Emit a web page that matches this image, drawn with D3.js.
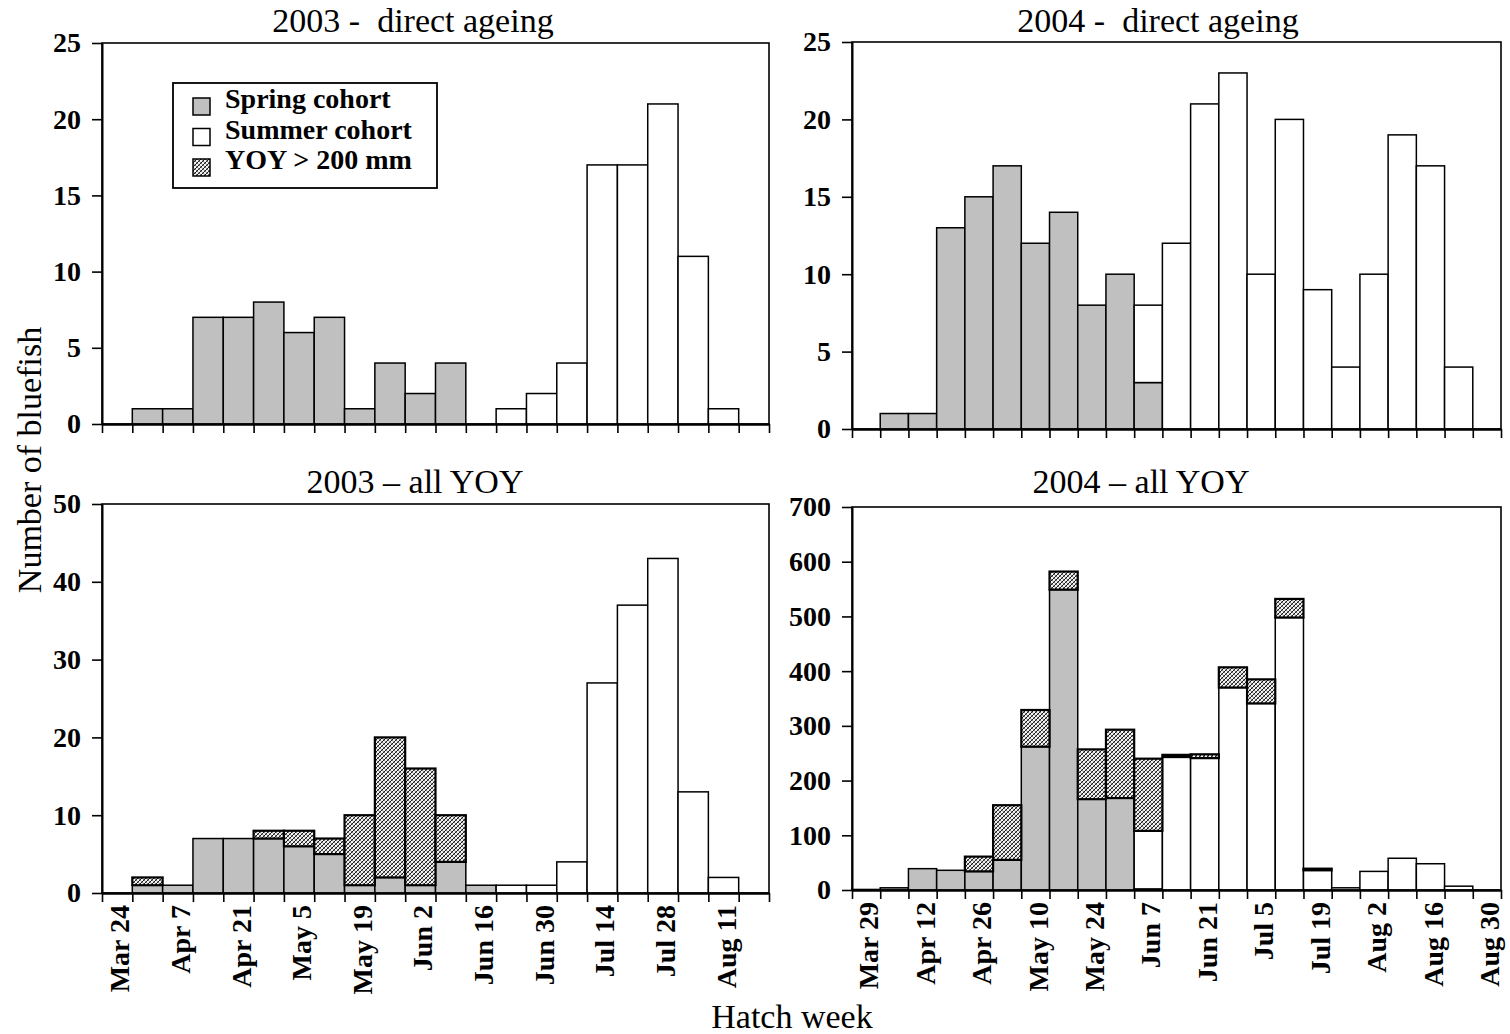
<!DOCTYPE html>
<html>
<head>
<meta charset="utf-8">
<script src="https://cdn.jsdelivr.net/npm/d3@7"></script>
<style>
  html, body { margin: 0; padding: 0; background: #fff; }
  svg { display: block; }
  text { font-family: "Liberation Serif", "Times New Roman", serif; fill: #000; }
</style>
</head>
<body>
<svg id="chart" width="1510" height="1034"></svg>
<script>
// Hatch weeks (weekly bins)
const weeks2003 = ["Mar 24","Mar 31","Apr 7","Apr 14","Apr 21","Apr 28","May 5","May 12",
  "May 19","May 26","Jun 2","Jun 9","Jun 16","Jun 23","Jun 30","Jul 7","Jul 14","Jul 21",
  "Jul 28","Aug 4","Aug 11","Aug 18"];
const weeks2004 = ["Mar 29","Apr 5","Apr 12","Apr 19","Apr 26","May 3","May 10","May 17",
  "May 24","May 31","Jun 7","Jun 14","Jun 21","Jun 28","Jul 5","Jul 12","Jul 19","Jul 26",
  "Aug 2","Aug 9","Aug 16","Aug 23","Aug 30"];

// 2003 - direct ageing
const direct2003Spring = [0,1,1,7,7,8,6,7,1,4,2,4,0,0,0,0,0,0,0,0,0,0];
const direct2003Summer = [0,0,0,0,0,0,0,0,0,0,0,0,0,1,2,4,17,17,21,11,1,0];

// 2004 - direct ageing
const direct2004Spring = [0,1,1,13,15,17,12,14,8,10,3,0,0,0,0,0,0,0,0,0,0,0,0];
const direct2004Summer = [0,0,0,0,0,0,0,0,0,0,5,12,21,23,10,20,9,4,10,19,17,4,0];

// 2003 - all YOY
const all2003Spring = [0,1,1,7,7,7,6,5,1,2,1,4,1,0,0,0,0,0,0,0,0,0];
const all2003Summer = [0,0,0,0,0,0,0,0,0,0,0,0,0,1,1,4,27,37,43,13,2,0];
const all2003Large  = [0,1,0,0,0,1,2,2,9,18,15,6,0,0,0,0,0,0,0,0,0,0];

// 2004 - all YOY
const all2004Spring = [1,4,39,36,34,55,262,549,166,168,2,0,0,0,0,0,0,0,0,0,0,0,0];
const all2004Summer = [0,0,0,0,0,0,0,0,0,0,106,243,241,370,341,498,36,4,34,58,48,7,0];
const all2004Large  = [0,0,0,0,27,100,67,33,91,125,132,4,7,37,44,34,3,0,0,0,0,0,0];

const seriesNames = ["Spring cohort", "Summer cohort", "YOY > 200 mm"];

const svg = d3.select("#chart");

// Fine pixel cross-hatch used for the YOY > 200 mm segments
const defs = svg.append("defs");
const pat = defs.append("pattern")
  .attr("id", "hatch").attr("patternUnits", "userSpaceOnUse")
  .attr("width", 4).attr("height", 4);
pat.append("rect").attr("width", 4).attr("height", 4).attr("fill", "#f2f2f2");
for (let k = 0; k < 4; k++) {
  pat.append("rect").attr("x", k).attr("y", 3 - k).attr("width", 1).attr("height", 1).attr("fill", "#1e1e1e");
  if (k !== 3 - k && k !== 1) {
    pat.append("rect").attr("x", k).attr("y", k).attr("width", 1).attr("height", 1).attr("fill", "#7a7a7a");
  }
}
pat.append("rect").attr("x", 1).attr("y", 1).attr("width", 1).attr("height", 1).attr("fill", "#9a9a9a");

const fills = {
  "Spring cohort": "#c0c0c0",
  "Summer cohort": "#ffffff",
  "YOY > 200 mm": "url(#hatch)"
};

function drawPanel(cfg) {
  const { left, top, right, bottom, weeks, yMax, yStep, layers, title, titleX, titleY, showLabels } = cfg;
  const n = weeks.length;
  const g = svg.append("g");

  const x = d3.scaleBand().domain(d3.range(n)).range([left, right]).padding(0);
  const xEdge = d3.scaleLinear().domain([0, n]).range([left, right]);
  const y = d3.scaleLinear().domain([0, yMax]).range([bottom, top]);

  // frame
  g.append("rect").attr("x", left).attr("y", top).attr("width", right - left).attr("height", bottom - top)
    .attr("fill", "none").attr("stroke", "#000").attr("stroke-width", 1.6);

  // stacked bars
  const keys = layers.map(l => l.name);
  const table = d3.range(n).map(i => {
    const row = { i };
    layers.forEach(l => row[l.name] = l.values[i]);
    return row;
  });
  const stacked = d3.stack().keys(keys)(table);
  stacked.forEach(layer => {
    g.append("g").selectAll("rect")
      .data(layer.filter(d => d[1] - d[0] > 0))
      .join("rect")
      .attr("x", d => x(d.data.i))
      .attr("width", x.bandwidth())
      .attr("y", d => y(d[1]))
      .attr("height", d => y(d[0]) - y(d[1]))
      .attr("fill", fills[layer.key])
      .attr("stroke", "#000")
      .attr("stroke-width", layer.key === "YOY > 200 mm" ? 2.2 : 1.5);
  });

  // y axis
  const yAxis = g.append("g").attr("transform", `translate(${left},0)`)
    .call(d3.axisLeft(y).tickValues(d3.range(0, yMax + 0.001, yStep)).tickSize(10).tickSizeOuter(0).tickPadding(11));
  yAxis.select(".domain").attr("stroke-width", 2);
  yAxis.selectAll(".tick line").attr("stroke-width", 1.6);
  yAxis.selectAll(".tick text").style("font-size", "28px").style("font-weight", "bold")
    .style("font-family", "'Liberation Serif', serif");

  // x axis: ticks on week boundaries
  const xAxis = g.append("g").attr("transform", `translate(0,${bottom})`)
    .call(d3.axisBottom(xEdge).tickValues(d3.range(n + 1)).tickSize(9).tickSizeOuter(0).tickFormat(""));
  xAxis.select(".domain").attr("stroke-width", 2.4);
  xAxis.selectAll(".tick line").attr("stroke-width", 1.6);

  if (showLabels) {
    const lab = g.append("g").attr("transform", `translate(2,${bottom})`)
      .call(d3.axisBottom(x).tickValues(d3.range(0, n, 2)).tickSize(0).tickFormat(i => weeks[i]));
    lab.select(".domain").remove();
    lab.selectAll(".tick text")
      .attr("transform", "rotate(-90)")
      .attr("text-anchor", "end")
      .attr("x", -12).attr("y", 0).attr("dy", "0.36em")
      .style("font-size", "28px").style("font-weight", "bold")
      .style("font-family", "'Liberation Serif', serif");
  }

  g.append("text").attr("x", titleX).attr("y", titleY)
    .attr("text-anchor", "middle").attr("xml:space", "preserve")
    .style("white-space", "pre").style("font-size", "34px")
    .text(title);
}

drawPanel({
  left: 102, top: 43, right: 769, bottom: 424, weeks: weeks2003, yMax: 25, yStep: 5,
  layers: [{ name: seriesNames[0], values: direct2003Spring }, { name: seriesNames[1], values: direct2003Summer }],
  title: "2003 -  direct ageing", titleX: 413, titleY: 32, showLabels: false
});
drawPanel({
  left: 852, top: 42, right: 1501, bottom: 429, weeks: weeks2004, yMax: 25, yStep: 5,
  layers: [{ name: seriesNames[0], values: direct2004Spring }, { name: seriesNames[1], values: direct2004Summer }],
  title: "2004 -  direct ageing", titleX: 1158, titleY: 32, showLabels: false
});
drawPanel({
  left: 102, top: 504, right: 769, bottom: 893, weeks: weeks2003, yMax: 50, yStep: 10,
  layers: [{ name: seriesNames[0], values: all2003Spring }, { name: seriesNames[1], values: all2003Summer },
           { name: seriesNames[2], values: all2003Large }],
  title: "2003 – all YOY", titleX: 415, titleY: 493, showLabels: true
});
drawPanel({
  left: 852, top: 507, right: 1501, bottom: 890, weeks: weeks2004, yMax: 700, yStep: 100,
  layers: [{ name: seriesNames[0], values: all2004Spring }, { name: seriesNames[1], values: all2004Summer },
           { name: seriesNames[2], values: all2004Large }],
  title: "2004 – all YOY", titleX: 1141, titleY: 493, showLabels: true
});

// legend
const leg = svg.append("g").attr("transform", "translate(173,83)");
leg.append("rect").attr("width", 264).attr("height", 105)
  .attr("fill", "#fff").attr("stroke", "#000").attr("stroke-width", 1.8);
seriesNames.forEach((name, i) => {
  const base = 25 + i * 30.5;
  leg.append("rect").attr("x", 20).attr("y", base - 10).attr("width", 17).attr("height", 17)
    .attr("fill", fills[name]).attr("stroke", "#000").attr("stroke-width", 1.5);
  leg.append("text").attr("x", 52).attr("y", base)
    .style("font-size", "28px").style("font-weight", "bold").text(name);
});

// axis titles
svg.append("text").attr("transform", "translate(41,460) rotate(-90)")
  .attr("text-anchor", "middle").style("font-size", "34px").text("Number of bluefish");
svg.append("text").attr("x", 792).attr("y", 1028)
  .attr("text-anchor", "middle").style("font-size", "34px").text("Hatch week");
</script>
</body>
</html>
